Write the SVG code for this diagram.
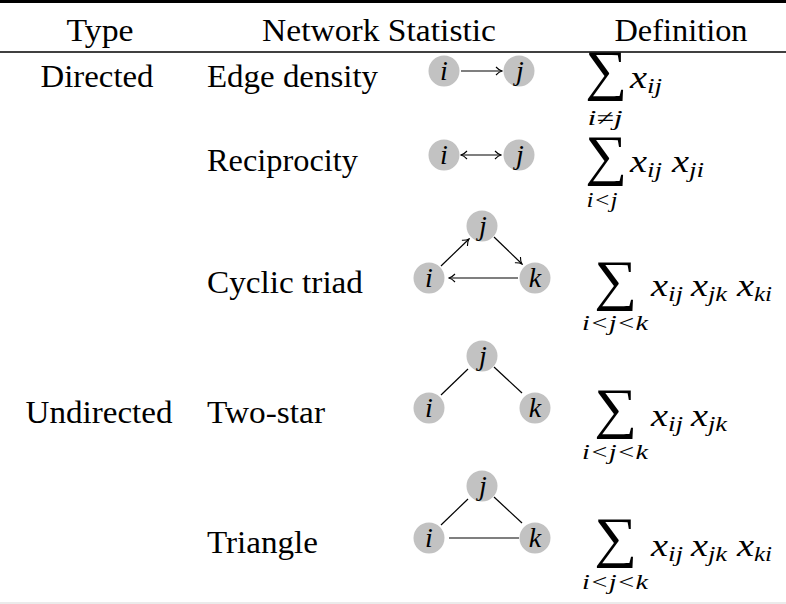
<svg xmlns="http://www.w3.org/2000/svg" width="786" height="604" viewBox="0 0 786 604">
  <style>
    text { font-family: Liberation Serif, Times New Roman, serif; fill: #000; }
    .t { font-size: 31px; }
    .m { font-style: italic; font-size: 32px; }
    .s { font-style: italic; font-size: 21px; }
    .lim { font-style: italic; font-size: 21px; text-anchor: middle; }
    .sum { font-size: 56px; }
    .nl { font-style: italic; font-size: 28px; text-anchor: middle; }
    .node circle { fill: #c2c2c2; }
    .edge { stroke: #000; stroke-width: 1.2; fill: none; }
    .rule { stroke: #000; }
  </style>
  <defs>
    <marker id="to" viewBox="0 0 8 10" refX="7" refY="5" markerWidth="8" markerHeight="10" markerUnits="userSpaceOnUse" orient="auto-start-reverse">
      <path d="M1,1 Q4,4.2 7,5 Q4,5.8 1,9" fill="none" stroke="#000" stroke-width="1.1"/>
    </marker>
  </defs>

  <rect width="786" height="604" fill="#fff"/>

  <!-- table rules -->
  <line class="rule" x1="0" y1="1.5" x2="786" y2="1.5" stroke-width="3"/>
  <line class="rule" x1="0" y1="52" x2="786" y2="52" stroke-width="1.3"/>
  <line x1="0" y1="603" x2="786" y2="603" stroke="#e4e4e4" stroke-width="1.5"/>

  <!-- header -->
  <g id="header">
    <text class="t" x="100" y="41" text-anchor="middle" textLength="67" lengthAdjust="spacingAndGlyphs">Type</text>
    <text class="t" x="262" y="41" textLength="234" lengthAdjust="spacingAndGlyphs">Network Statistic</text>
    <text class="t" x="681" y="41" text-anchor="middle" textLength="133" lengthAdjust="spacingAndGlyphs">Definition</text>
  </g>

  <!-- type column -->
  <text class="t" x="97" y="87" text-anchor="middle" textLength="113" lengthAdjust="spacingAndGlyphs">Directed</text>
  <text class="t" x="99" y="423" text-anchor="middle" textLength="147" lengthAdjust="spacingAndGlyphs">Undirected</text>

  <!-- statistic names -->
  <text class="t" x="207" y="87" textLength="171" lengthAdjust="spacingAndGlyphs">Edge density</text>
  <text class="t" x="207" y="171" textLength="151" lengthAdjust="spacingAndGlyphs">Reciprocity</text>
  <text class="t" x="207" y="293" textLength="156" lengthAdjust="spacingAndGlyphs">Cyclic triad</text>
  <text class="t" x="207" y="423" textLength="118" lengthAdjust="spacingAndGlyphs">Two-star</text>
  <text class="t" x="207" y="553" textLength="111" lengthAdjust="spacingAndGlyphs">Triangle</text>

  <!-- connectors -->
  <g id="connectors">
    <line class="edge" x1="461" y1="71" x2="502" y2="71" marker-end="url(#to)"/>
    <line class="edge" x1="461" y1="155" x2="501" y2="155" marker-start="url(#to)" marker-end="url(#to)"/>
    <line class="edge" x1="441" y1="266" x2="469" y2="239" marker-end="url(#to)"/>
    <line class="edge" x1="494" y1="237" x2="522" y2="264" marker-end="url(#to)"/>
    <line class="edge" x1="518" y1="278" x2="449" y2="278" marker-end="url(#to)"/>
    <line class="edge" x1="441" y1="395" x2="468" y2="369"/>
    <line class="edge" x1="494" y1="367" x2="522" y2="393"/>
    <line class="edge" x1="441" y1="525" x2="468" y2="499"/>
    <line class="edge" x1="494" y1="497" x2="522" y2="523"/>
    <line class="edge" x1="449" y1="538" x2="519" y2="538"/>
  </g>

  <!-- nodes -->
  <g id="edge-i" class="node"><circle cx="444" cy="71" r="15.5"/><text class="nl" x="444" y="80">i</text></g>
  <g id="edge-j" class="node"><circle cx="519" cy="71" r="15.5"/><text class="nl" x="520" y="80">j</text></g>
  <g id="recip-i" class="node"><circle cx="444" cy="155" r="15.5"/><text class="nl" x="444" y="164">i</text></g>
  <g id="recip-j" class="node"><circle cx="519" cy="155" r="15.5"/><text class="nl" x="520" y="164">j</text></g>
  <g id="cyc-i" class="node"><circle cx="429" cy="278" r="15.5"/><text class="nl" x="429" y="287">i</text></g>
  <g id="cyc-j" class="node"><circle cx="482" cy="226" r="15.5"/><text class="nl" x="483" y="235">j</text></g>
  <g id="cyc-k" class="node"><circle cx="535" cy="278" r="15.5"/><text class="nl" x="535" y="287">k</text></g>
  <g id="star-i" class="node"><circle cx="429" cy="408" r="15.5"/><text class="nl" x="429" y="417">i</text></g>
  <g id="star-j" class="node"><circle cx="482" cy="356" r="15.5"/><text class="nl" x="483" y="365">j</text></g>
  <g id="star-k" class="node"><circle cx="535" cy="408" r="15.5"/><text class="nl" x="535" y="417">k</text></g>
  <g id="tri-i" class="node"><circle cx="429" cy="538" r="15.5"/><text class="nl" x="429" y="547">i</text></g>
  <g id="tri-j" class="node"><circle cx="482" cy="486" r="15.5"/><text class="nl" x="483" y="495">j</text></g>
  <g id="tri-k" class="node"><circle cx="535" cy="538" r="15.5"/><text class="nl" x="535" y="547">k</text></g>

  <!-- definitions -->
  <g id="def-edge">
    <text class="sum" x="585" y="89" textLength="42" lengthAdjust="spacingAndGlyphs">∑</text>
    <text class="m" x="630" y="88" textLength="17" lengthAdjust="spacingAndGlyphs">x</text><text class="s" x="647" y="93" textLength="15" lengthAdjust="spacingAndGlyphs">ij</text>
    <text class="lim" x="605" y="125" textLength="35" lengthAdjust="spacingAndGlyphs">i≠j</text>
  </g>
  <g id="def-recip">
    <text class="sum" x="585" y="174" textLength="42" lengthAdjust="spacingAndGlyphs">∑</text>
    <text class="m" x="630" y="172" textLength="17" lengthAdjust="spacingAndGlyphs">x</text><text class="s" x="647" y="177" textLength="15" lengthAdjust="spacingAndGlyphs">ij</text>
    <text class="m" x="672" y="172" textLength="17" lengthAdjust="spacingAndGlyphs">x</text><text class="s" x="689" y="177" textLength="15" lengthAdjust="spacingAndGlyphs">ji</text>
    <text class="lim" x="602" y="207" textLength="31" lengthAdjust="spacingAndGlyphs">i&lt;j</text>
  </g>
  <g id="def-cyc">
    <text class="sum" x="594" y="299" textLength="43" lengthAdjust="spacingAndGlyphs">∑</text>
    <text class="m" x="651" y="296" textLength="17" lengthAdjust="spacingAndGlyphs">x</text><text class="s" x="668" y="301" textLength="15" lengthAdjust="spacingAndGlyphs">ij</text>
    <text class="m" x="691" y="296" textLength="17" lengthAdjust="spacingAndGlyphs">x</text><text class="s" x="708" y="301" textLength="19" lengthAdjust="spacingAndGlyphs">jk</text>
    <text class="m" x="737" y="296" textLength="17" lengthAdjust="spacingAndGlyphs">x</text><text class="s" x="754" y="301" textLength="18" lengthAdjust="spacingAndGlyphs">ki</text>
    <text class="lim" x="615" y="330" textLength="66" lengthAdjust="spacingAndGlyphs">i&lt;j&lt;k</text>
  </g>
  <g id="def-star">
    <text class="sum" x="594" y="427" textLength="43" lengthAdjust="spacingAndGlyphs">∑</text>
    <text class="m" x="651" y="426" textLength="17" lengthAdjust="spacingAndGlyphs">x</text><text class="s" x="668" y="431" textLength="15" lengthAdjust="spacingAndGlyphs">ij</text>
    <text class="m" x="691" y="426" textLength="17" lengthAdjust="spacingAndGlyphs">x</text><text class="s" x="708" y="431" textLength="19" lengthAdjust="spacingAndGlyphs">jk</text>
    <text class="lim" x="615" y="459" textLength="66" lengthAdjust="spacingAndGlyphs">i&lt;j&lt;k</text>
  </g>
  <g id="def-tri">
    <text class="sum" x="594" y="556" textLength="43" lengthAdjust="spacingAndGlyphs">∑</text>
    <text class="m" x="651" y="556" textLength="17" lengthAdjust="spacingAndGlyphs">x</text><text class="s" x="668" y="561" textLength="15" lengthAdjust="spacingAndGlyphs">ij</text>
    <text class="m" x="691" y="556" textLength="17" lengthAdjust="spacingAndGlyphs">x</text><text class="s" x="708" y="561" textLength="19" lengthAdjust="spacingAndGlyphs">jk</text>
    <text class="m" x="737" y="556" textLength="17" lengthAdjust="spacingAndGlyphs">x</text><text class="s" x="754" y="561" textLength="18" lengthAdjust="spacingAndGlyphs">ki</text>
    <text class="lim" x="615" y="589" textLength="66" lengthAdjust="spacingAndGlyphs">i&lt;j&lt;k</text>
  </g>
</svg>
